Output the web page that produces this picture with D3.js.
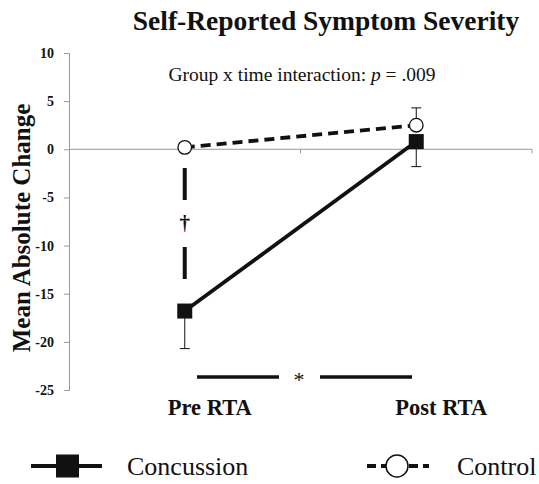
<!DOCTYPE html>
<html lang="en">
<head>
<meta charset="UTF-8">
<title>Self-Reported Symptom Severity</title>
<style>
  *{margin:0;padding:0;}
  body{background:#fff;}
  svg text{font-family:"Liberation Serif","Times New Roman",serif;fill:#111;}
</style>
</head>
<body>
<div id="container"></div>
<script src="https://cdn.jsdelivr.net/npm/d3@7/dist/d3.min.js"></script>
<script>
var categories = ['Pre RTA', 'Post RTA']
var concussion = [-16.8, 0.8]
var concussionErr = [3.9, 2.6]
var control = [0.2, 2.5]
var controlErr = [0.3, 1.8]
var yTicks = [10, 5, 0, -5, -10, -15, -20, -25]

var W = 539, H = 484
var margin = {left: 69, top: 53, right: 7, bottom: 94}

var svg = d3.select('#container').append('svg').attr('width', W).attr('height', H)

var x = d3.scaleBand().domain(categories).range([margin.left, W - margin.right])
var y = d3.scaleLinear().domain([-25, 10]).range([H - margin.bottom, margin.top])
var cx = function (c) { return x(c) + x.bandwidth() / 2 }

// title
svg.append('text').attr('x', 326).attr('y', 30).attr('text-anchor', 'middle')
  .style('font-size', '27.5px').style('font-weight', 'bold')
  .text('Self-Reported Symptom Severity')

// y axis
var yAxis = svg.append('g').attr('transform', 'translate(' + margin.left + ',0)')
  .call(d3.axisLeft(y).tickValues(yTicks).tickSize(5).tickPadding(10)
    .tickFormat(function (d) { return String(d) }))
yAxis.select('.domain').attr('stroke', '#999')
yAxis.selectAll('.tick line').attr('stroke', '#999')
yAxis.selectAll('.tick text').style('font-size', '14px').style('font-weight', 'bold')
  .style('font-family', '"Liberation Serif",serif').attr('fill', '#111')

// x axis at zero
var xAxis = svg.append('g').attr('transform', 'translate(0,' + y(0) + ')')
xAxis.append('line').attr('x1', margin.left).attr('x2', W - margin.right)
  .attr('stroke', '#999')
var bounds = categories.map(function (c) { return x(c) + x.bandwidth() })
xAxis.selectAll('.xt').data(bounds).enter().append('line')
  .attr('x1', function (d) { return d }).attr('x2', function (d) { return d })
  .attr('y1', 0).attr('y2', 4).attr('stroke', '#999')

// category labels
svg.selectAll('.cat').data(categories).enter().append('text')
  .attr('x', function (d) { return cx(d) + 25 }).attr('y', 415)
  .attr('text-anchor', 'middle').style('font-size', '22.5px').style('font-weight', 'bold')
  .text(function (d) { return d })

// y label
svg.append('text').attr('transform', 'translate(30,' + 228 + ') rotate(-90)')
  .attr('text-anchor', 'middle').style('font-size', '25px').style('font-weight', 'bold')
  .text('Mean Absolute Change')

// annotation
var ann = svg.append('text').attr('x', 302).attr('y', 81).attr('text-anchor', 'middle')
  .style('font-size', '19.5px')
ann.append('tspan').text('Group x time interaction: ')
ann.append('tspan').style('font-style', 'italic').text('p')
ann.append('tspan').text(' = .009')

// error bars
function errBars(vals, errs, dir) {
  categories.forEach(function (c, i) {
    var y0 = y(vals[i]), y1 = y(vals[i] + dir * errs[i])
    svg.append('line').attr('x1', cx(c)).attr('x2', cx(c)).attr('y1', y0).attr('y2', y1)
      .attr('stroke', '#111').attr('stroke-width', 1)
    svg.append('line').attr('x1', cx(c) - 5).attr('x2', cx(c) + 5).attr('y1', y1).attr('y2', y1)
      .attr('stroke', '#111').attr('stroke-width', 1)
  })
}
errBars(concussion, concussionErr, -1)
errBars(control, controlErr, 1)

// lines
var line = d3.line().x(function (d, i) { return cx(categories[i]) }).y(function (d) { return y(d) })
svg.append('path').datum(control).attr('d', line).attr('fill', 'none')
  .attr('stroke', '#111').attr('stroke-width', 3.8).attr('stroke-dasharray', '10,6')
svg.append('path').datum(concussion).attr('d', line).attr('fill', 'none')
  .attr('stroke', '#111').attr('stroke-width', 3.8)

// markers
svg.selectAll('.sq').data(concussion).enter().append('rect')
  .attr('x', function (d, i) { return cx(categories[i]) - 7.5 })
  .attr('y', function (d) { return y(d) - 7.5 })
  .attr('width', 15).attr('height', 15).attr('fill', '#111')
svg.selectAll('.ci').data(control).enter().append('circle')
  .attr('cx', function (d, i) { return cx(categories[i]) })
  .attr('cy', function (d) { return y(d) })
  .attr('r', 6.8).attr('fill', '#fff').attr('stroke', '#111').attr('stroke-width', 1.3)

// dagger marker between groups at Pre RTA
var px = cx(categories[0])
svg.append('line').attr('x1', px).attr('x2', px).attr('y1', 168).attr('y2', 200)
  .attr('stroke', '#111').attr('stroke-width', 4)
svg.append('line').attr('x1', px).attr('x2', px).attr('y1', 247).attr('y2', 279)
  .attr('stroke', '#111').attr('stroke-width', 4)
svg.append('text').attr('x', px).attr('y', 230).attr('text-anchor', 'middle')
  .style('font-size', '21px').style('font-weight', 'bold').text('†')

// asterisk across time
var sy = 377
svg.append('line').attr('x1', 197).attr('x2', 279).attr('y1', sy).attr('y2', sy)
  .attr('stroke', '#111').attr('stroke-width', 3.5)
svg.append('line').attr('x1', 320).attr('x2', 412).attr('y1', sy).attr('y2', sy)
  .attr('stroke', '#111').attr('stroke-width', 3.5)
svg.append('text').attr('x', 299).attr('y', 387).attr('text-anchor', 'middle')
  .style('font-size', '22px').text('*')

// legend
var ly = 466
svg.append('line').attr('x1', 31).attr('x2', 102).attr('y1', ly).attr('y2', ly)
  .attr('stroke', '#111').attr('stroke-width', 4)
svg.append('rect').attr('x', 56).attr('y', ly - 11.5).attr('width', 23).attr('height', 23).attr('fill', '#111')
svg.append('text').attr('x', 127).attr('y', ly + 9).style('font-size', '26px').text('Concussion')
svg.append('line').attr('x1', 367).attr('x2', 429).attr('y1', ly).attr('y2', ly)
  .attr('stroke', '#111').attr('stroke-width', 4).attr('stroke-dasharray', '9,5')
svg.append('circle').attr('cx', 397).attr('cy', ly).attr('r', 11)
  .attr('fill', '#fff').attr('stroke', '#111').attr('stroke-width', 1.5)
svg.append('text').attr('x', 457).attr('y', ly + 9).style('font-size', '26px').text('Control')
</script>
</body>
</html>
